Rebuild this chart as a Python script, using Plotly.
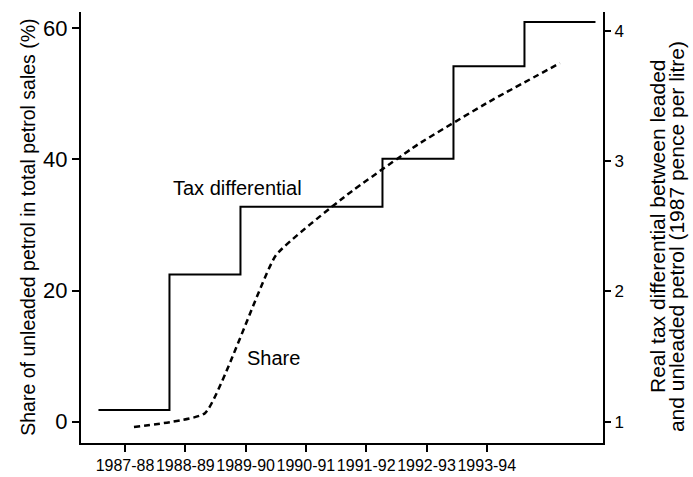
import plotly.graph_objects as go

# ---- data ----
periods = ["1987-88", "1988-89", "1989-90", "1990-91", "1991-92", "1992-93", "1993-94"]
year_index = [0, 1, 2, 3, 4, 5, 6]
share_pct = [-0.8, 1.3, 25.4, 34.6, 42.3, 48.8, 54.7]          # left axis (%)
tax_diff = [1.09, 2.13, 2.65, 2.65, 3.02, 3.73, 4.07]          # right axis (1987 pence/litre)

# step outline for the tax differential (each year's level spans the year)
step_x = [i - 0.5 for i in year_index] + [year_index[-1] + 0.5]
step_y = tax_diff + [tax_diff[-1]]

FONT = "Liberation Sans, Arial, Helvetica, sans-serif"

fig = go.Figure()

# invisible trace so the category (financial-year) axis is drawn
fig.add_trace(go.Scatter(
    x=year_index, y=[None] * len(year_index), xaxis="x", yaxis="y", mode="lines",
    showlegend=False, hoverinfo="skip"))

fig.add_trace(go.Scatter(
    x=step_x, y=step_y, xaxis="x2", yaxis="y2", mode="lines",
    line=dict(color="black", width=2, shape="hv"), showlegend=False,
    hoverinfo="skip"))

fig.add_trace(go.Scatter(
    x=year_index, y=share_pct, xaxis="x2", yaxis="y", mode="lines",
    line=dict(color="black", width=2.5, dash="6px,4px", shape="spline", smoothing=0.4),
    showlegend=False, hoverinfo="skip"))

fig.update_layout(
    width=693, height=477,
    margin=dict(l=81, r=90, t=12, b=34),
    paper_bgcolor="white", plot_bgcolor="white",
    font=dict(family=FONT, color="black"),
    xaxis=dict(range=[-0.73, 7.927], tickmode="array", tickvals=list(range(len(periods))),
               ticktext=periods, tickangle=0, automargin=False,
               ticks="outside", ticklen=7, tickwidth=2, tickcolor="black",
               showline=True, linewidth=2, linecolor="black", showgrid=False, zeroline=False,
               tickfont=dict(size=16, family=FONT, color="black"), fixedrange=True),
    xaxis2=dict(overlaying="x", anchor="y", range=[-0.746, 6.606], visible=False,
                showgrid=False, zeroline=False, automargin=False),
    yaxis=dict(range=[-3.25, 62.5], tickmode="array", tickvals=[0, 20, 40, 60],
               automargin=False,
               ticks="outside", ticklen=7, tickwidth=2, tickcolor="black",
               showline=True, linewidth=2, linecolor="black", showgrid=False, zeroline=False,
               tickfont=dict(size=22, family=FONT, color="black")),
    yaxis2=dict(overlaying="y", side="right", anchor="x", range=[0.836, 4.147],
                tickmode="array", tickvals=[1, 2, 3, 4], automargin=False,
                ticks="outside", ticklen=6, tickwidth=2, tickcolor="black",
                showline=True, linewidth=2, linecolor="black", showgrid=False, zeroline=False,
                tickfont=dict(size=17, family=FONT, color="black")),
)

annotations = [
    dict(text="Tax differential", x=1.46, y=35.6, xref="x2", yref="y",
         showarrow=False, font=dict(size=20, family=FONT, color="black")),
    dict(text="Share", x=1.96, y=9.7, xref="x2", yref="y",
         showarrow=False, font=dict(size=20, family=FONT, color="black")),
    dict(text="Share of unleaded petrol in total petrol sales (%)", x=-0.103, y=0.50,
         xref="paper", yref="paper", textangle=-90, showarrow=False,
         xanchor="center", yanchor="middle",
         font=dict(size=19.5, family=FONT, color="black")),
    dict(text="Real tax differential between leaded", x=1.103, y=0.503,
         xref="paper", yref="paper", textangle=-90, showarrow=False,
         xanchor="center", yanchor="middle",
         font=dict(size=21, family=FONT, color="black")),
    dict(text="and unleaded petrol (1987 pence per litre)", x=1.142, y=0.478,
         xref="paper", yref="paper", textangle=-90, showarrow=False,
         xanchor="center", yanchor="middle",
         font=dict(size=21, family=FONT, color="black")),
]
fig.update_layout(annotations=annotations)

fig.write_html("out.html", config={"displayModeBar": False},
               post_script="document.body.style.margin='0';document.body.style.padding='0';")
